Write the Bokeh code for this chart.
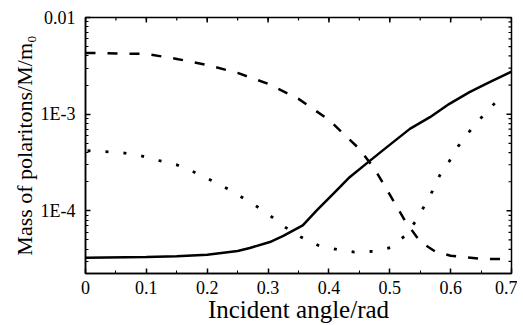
import numpy as np
from bokeh.plotting import figure
from bokeh.models import FixedTicker, Range1d
from bokeh.embed import file_html
from bokeh.resources import INLINE

# Data
solid_x = [0.0, 0.1, 0.15, 0.2, 0.25, 0.27, 0.303, 0.325, 0.357, 0.38, 0.407, 0.434, 0.462,
           0.489, 0.533, 0.566, 0.598, 0.631, 0.664, 0.7]
solid_y = [3.27e-5, 3.33e-5, 3.4e-5, 3.52e-5, 3.85e-5, 4.13e-5, 4.76e-5, 5.5e-5, 7.07e-5, 1.01e-4,
           1.5e-4, 2.23e-4, 3.1e-4, 4.25e-4, 7.05e-4, 9.31e-4, 1.28e-3, 1.69e-3, 2.14e-3, 2.75e-3]

dash_x = [0.0, 0.1, 0.15, 0.2, 0.25, 0.3, 0.35, 0.4, 0.45, 0.475, 0.5, 0.525, 0.55, 0.575, 0.6, 0.65, 0.7]
dash_y = [4.3e-3, 4.2e-3, 3.73e-3, 3.23e-3, 2.67e-3, 2.06e-3, 1.44e-3, 8.73e-4, 4.38e-4, 2.72e-4,
          1.47e-4, 7.9e-5, 4.8e-5, 3.79e-5, 3.44e-5, 3.2e-5, 3.15e-5]

dot_x = [0.0, 0.032, 0.061, 0.090, 0.120, 0.150, 0.178, 0.207, 0.236, 0.266, 0.296, 0.325, 0.354,
         0.383, 0.413, 0.442, 0.473, 0.501, 0.527, 0.544, 0.558, 0.570, 0.582, 0.597, 0.612,
         0.630, 0.651, 0.674, 0.69]
dot_y = [4.2e-4, 4.11e-4, 3.98e-4, 3.73e-4, 3.32e-4, 2.99e-4, 2.52e-4, 2.06e-4, 1.66e-4, 1.28e-4,
         9.72e-5, 6.97e-5, 5.36e-5, 4.39e-5, 3.99e-5, 3.75e-5, 3.81e-5, 4.16e-5, 5.66e-5, 8.09e-5,
         1.16e-4, 1.60e-4, 2.32e-4, 3.19e-4, 4.62e-4, 6.52e-4, 9.31e-4, 1.33e-3, 1.6e-3]

x_ticks = [0.0, 0.1, 0.2, 0.3, 0.4, 0.5, 0.6, 0.7]
x_tick_labels = ["0", "0.1", "0.2", "0.3", "0.4", "0.5", "0.6", "0.7"]
y_ticks = [1e-4, 1e-3, 1e-2]
y_tick_labels = ["1E-4", "1E-3", "0.01"]

X_MIN, X_MAX = 0.0, 0.7
Y_MIN, Y_MAX = 2.25e-5, 0.01

FONT = "'Liberation Serif', serif"

p = figure(frame_width=426, frame_height=256, y_axis_type="log",
           x_range=Range1d(X_MIN, X_MAX), y_range=Range1d(Y_MIN, Y_MAX),
           output_backend="svg", toolbar_location=None,
           min_border_left=85, min_border_right=6, min_border_top=17, min_border_bottom=40)
p.grid.visible = False
p.outline_line_color = "black"
p.outline_line_width = 1.5
p.background_fill_color = "white"
p.border_fill_color = "white"

p.line(solid_x, solid_y, line_color="black", line_width=2.5)
p.line(dash_x, dash_y, line_color="black", line_width=2.5, line_dash="10 12")
p.line(dot_x, dot_y, line_color="black", line_width=2.8, line_dash="3 15", line_dash_offset=-2)

x_minor = [round(0.05 * i, 3) for i in range(15)]
y_minor = [m * 10.0 ** e for e in (-5, -4, -3) for m in range(2, 10)]
y_minor = [v for v in y_minor if v >= Y_MIN]

# mirrored inward ticks on top and right edges (clipped half-dashes)
p.scatter(x_ticks, [Y_MAX] * len(x_ticks), marker="dash", angle=np.pi / 2, size=10,
          line_color="black", line_width=1.5)
p.scatter(x_minor, [Y_MAX] * len(x_minor), marker="dash", angle=np.pi / 2, size=6,
          line_color="black", line_width=1.2)
p.scatter([X_MAX] * len(y_ticks), y_ticks, marker="dash", size=10,
          line_color="black", line_width=1.5)
p.scatter([X_MAX] * len(y_minor), y_minor, marker="dash", size=6,
          line_color="black", line_width=1.2)

def style(ax):
    ax.axis_line_color = "black"
    ax.axis_line_width = 1.5
    ax.major_tick_in = 5
    ax.major_tick_out = 0
    ax.minor_tick_in = 3
    ax.minor_tick_out = 0
    ax.major_tick_line_color = "black"
    ax.minor_tick_line_color = "black"
    ax.major_tick_line_width = 1.5
    ax.major_label_text_font = FONT
    ax.major_label_text_font_size = "18px"
    ax.major_label_text_color = "black"
    ax.axis_label_text_font = FONT
    ax.axis_label_text_font_style = "normal"
    ax.axis_label_text_color = "black"

xa = p.xaxis[0]
xa.ticker = FixedTicker(ticks=x_ticks, minor_ticks=x_minor)
xa.major_label_overrides = dict(zip(x_ticks, x_tick_labels))
xa.axis_label = "Incident angle/rad"
style(xa)
xa.axis_label_text_font_size = "25px"
xa.major_label_standoff = 7
xa.axis_label_standoff = -1

ya = p.yaxis[0]
ya.ticker = FixedTicker(ticks=y_ticks, minor_ticks=y_minor)
ya.major_label_overrides = dict(zip(y_ticks, y_tick_labels))
ya.axis_label = "Mass of polaritons/M/m\u2080"
style(ya)
ya.axis_label_text_font_size = "22px"
ya.major_label_standoff = 10
ya.axis_label_standoff = 1

open("out.html", "w").write(file_html(p, INLINE))
